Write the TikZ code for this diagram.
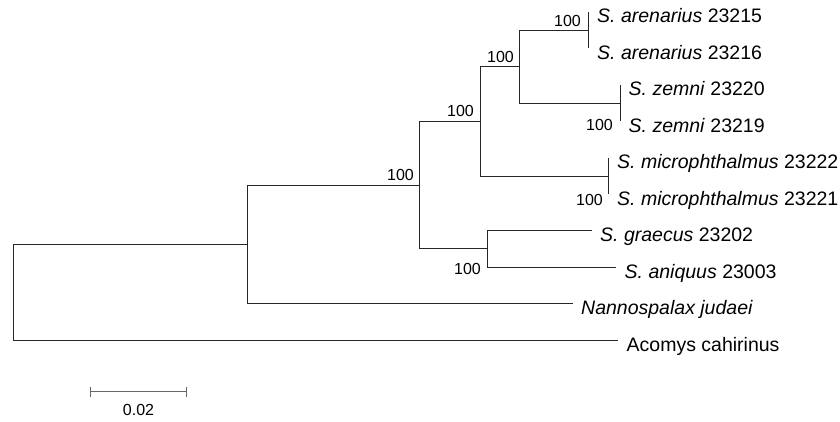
\documentclass[tikz,border=0pt]{standalone}
\usepackage{fontspec}
\setmainfont{Liberation Sans}
\begin{document}
\begin{tikzpicture}[x=1pt, y=-1pt]
\tikzstyle{taxon}=[anchor=west, inner xsep=8.5pt, inner ysep=0pt,
                   text height=22.5pt, text depth=0.5pt,
                   font=\fontsize{19.5}{20}\selectfont]
\tikzstyle{boot}=[anchor=base east, inner sep=0pt, font=\fontsize{16}{16}\selectfont]
\tikzstyle{branch}=[line width=0.9pt, black!85]
\path[use as bounding box] (0,0) rectangle (840,422);
% taxa
\node[taxon] (are1) at (588.5,12.0)  {\textit{S. arenarius} 23215};
\node[taxon] (are2) at (588.5,48.4)  {\textit{S. arenarius} 23216};
\node[taxon] (zem1) at (620,84.9)    {\textit{S. zemni} 23220};
\node[taxon] (zem2) at (620,121.3)   {\textit{S. zemni} 23219};
\node[taxon] (mic1) at (608.5,157.8) {\textit{S. microphthalmus} 23222};
\node[taxon] (mic2) at (608.5,194.2) {\textit{S. microphthalmus} 23221};
\node[taxon] (gra) at (591.5,230.6)  {\textit{S. graecus} 23202};
\node[taxon] (ani) at (616,267.1)    {\textit{S. aniquus} 23003};
\node[taxon] (nan) at (572.5,303.5)  {\textit{Nannospalax judaei}};
\node[taxon] (aco) at (618,340.0)    {Acomys cahirinus};
% inner nodes
\coordinate (A) at (588.5,30.2);
\coordinate (Z) at (620,103.1);
\coordinate (M) at (608.5,176.0);
\coordinate (C) at (519,66.7);
\coordinate (B) at (480,121.3);
\coordinate (F) at (487,248.9);
\coordinate (E) at (419,185.1);
\coordinate (D) at (247,244.3);
\coordinate (R) at (13,292.2);
\foreach \i/\j in {R/D, R/aco, D/E, D/nan, E/B, E/F, B/C, B/M, C/A, C/Z,
                   A/are1, A/are2, Z/zem1, Z/zem2, M/mic1, M/mic2, F/gra, F/ani}
  {\draw[branch] (\i) |- (\j);}
% bootstrap
\node[boot] (bA) at (581,27)  {100};
\node[boot] (bC) at (514,63)  {100};
\node[boot] (bB) at (474,117) {100};
\node[boot] (bE) at (414,181) {100};
\node[boot] (bZ) at (613,131) {100};
\node[boot] (bM) at (603,205) {100};
\node[boot] (bF) at (481,274) {100};
% scale bar
\coordinate (s0) at (90,391.5);
\coordinate (s1) at (186,391.5);
\draw[line width=0.9pt, black!60] (s0) -- (s1)
  (s0) ++(0,-5) -- ++(0,10) (s1) ++(0,-5) -- ++(0,10);
\node[boot, anchor=base] (sb) at (138.5,415) {0.02};
\end{tikzpicture}
\end{document}
